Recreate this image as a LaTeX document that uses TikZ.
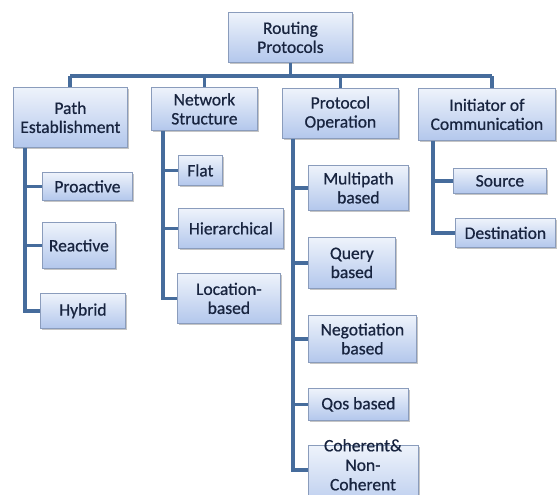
\documentclass[tikz,border=0pt]{standalone}
\usepackage{fontspec}
\setmainfont{Carlito}[FakeBold=0.7,AutoFakeBold=0.7]
\newfontfamily\boxfont{Carlito}[FakeBold=0.7]
\usetikzlibrary{shadows}
\definecolor{linec}{HTML}{466C9C}
\definecolor{boxtop}{HTML}{EEF3FB}
\definecolor{boxbot}{HTML}{B3C7EC}
\definecolor{boxedge}{HTML}{8A9CBC}
\definecolor{txt}{HTML}{18243F}
\begin{document}
\begin{tikzpicture}[x=1pt,y=-1pt,
  pbox/.style={draw=boxedge, line width=0.8pt, top color=boxtop, bottom color=boxbot,
    drop shadow={opacity=0.45, shadow xshift=1.5pt, shadow yshift=-1.8pt},
    anchor=north west, inner sep=0pt, align=center, text=txt,
    font=\boxfont\fontsize{17.5}{19}\selectfont},
  conn/.style={draw=linec, line width=3.2pt}]
\useasboundingbox (0,0) rectangle (557,495);
\fill[white] (0,0) rectangle (557,495);
\coordinate (busL) at (70,76);
\coordinate (busR) at (492,76);
\coordinate (pv) at (25,140);
\coordinate (nv) at (163,125);
\coordinate (ov) at (293,130);
\coordinate (iv) at (433,135);
\coordinate (cohw) at (308,470);
% boxes
\node[pbox, minimum width=124pt, minimum height=50pt] (root) at (228,12) {Routing\\Protocols};
\node[pbox, minimum width=114pt, minimum height=60pt] (path) at (13,87) {Path\\Establishment};
\node[pbox, minimum width=106pt, minimum height=43pt] (net) at (151,87) {Network\\Structure};
\node[pbox, minimum width=116pt, minimum height=50pt] (op) at (282,88) {Protocol\\Operation};
\node[pbox, minimum width=137pt, minimum height=52pt] (init) at (418,88) {Initiator of\\Communication};
\node[pbox, minimum width=90pt, minimum height=28pt] (pro) at (42,172) {Proactive};
\node[pbox, minimum width=73pt, minimum height=46pt] (rea) at (42,222) {Reactive};
\node[pbox, minimum width=85pt, minimum height=35pt] (hyb) at (40,293) {Hybrid};
\node[pbox, minimum width=44pt, minimum height=30pt] (flat) at (178,155) {Flat};
\node[pbox, minimum width=105pt, minimum height=40pt] (hier) at (178,208) {Hierarchical};
\node[pbox, minimum width=103pt, minimum height=50pt] (loc) at (177,273) {Location-\\based};
\node[pbox, minimum width=100pt, minimum height=45pt] (multi) at (308,165) {Multipath\\based};
\node[pbox, minimum width=87pt, minimum height=51pt] (query) at (308,237) {Query\\based};
\node[pbox, minimum width=108pt, minimum height=47pt] (nego) at (308,315) {Negotiation\\based};
\node[pbox, minimum width=100pt, minimum height=32pt] (qos) at (308,388) {Qos based};
\node[pbox, minimum width=110pt, minimum height=70pt] (coh) at (308,445) {};
\node[anchor=north, inner sep=0pt, align=center, text=txt, font=\boxfont\fontsize{17.5}{19.5}\selectfont] (cohtxt) at (363,439) {Coherent\&\\Non-\\Coherent};
\node[pbox, minimum width=93pt, minimum height=25pt] (src) at (453,168) {Source};
\node[pbox, minimum width=100pt, minimum height=29pt] (dst) at (455,218) {Destination};
% bus
\draw[conn] (busL) -- (busR);
\draw[conn] (root.south) -- (root.south |- busL);
\draw[conn] (path.north -| busL) -- (busL);
\draw[conn] (net.north) -- (net.north |- busL);
\draw[conn] (op.north) -- (op.north |- busL);
\draw[conn] (init.north -| busR) -- (busR);
% path establishment
\draw[conn] (path.south -| pv) -- (hyb.west -| pv) -- (hyb.west);
\draw[conn] (pro.west -| pv) -- (pro.west);
\draw[conn] (rea.west -| pv) -- (rea.west);
% network structure
\draw[conn] (net.south -| nv) -- (loc.west -| nv) -- (loc.west);
\draw[conn] (flat.west -| nv) -- (flat.west);
\draw[conn] (hier.west -| nv) -- (hier.west);
% protocol operation
\draw[conn] (op.south -| ov) -- (cohw -| ov) -- (cohw);
\draw[conn] (multi.west -| ov) -- (multi.west);
\draw[conn] (query.west -| ov) -- (query.west);
\draw[conn] (nego.west -| ov) -- (nego.west);
\draw[conn] (qos.west -| ov) -- (qos.west);
% initiator
\draw[conn] (init.south -| iv) -- (dst.west -| iv) -- (dst.west);
\draw[conn] (src.west -| iv) -- (src.west);
\end{tikzpicture}
\end{document}
